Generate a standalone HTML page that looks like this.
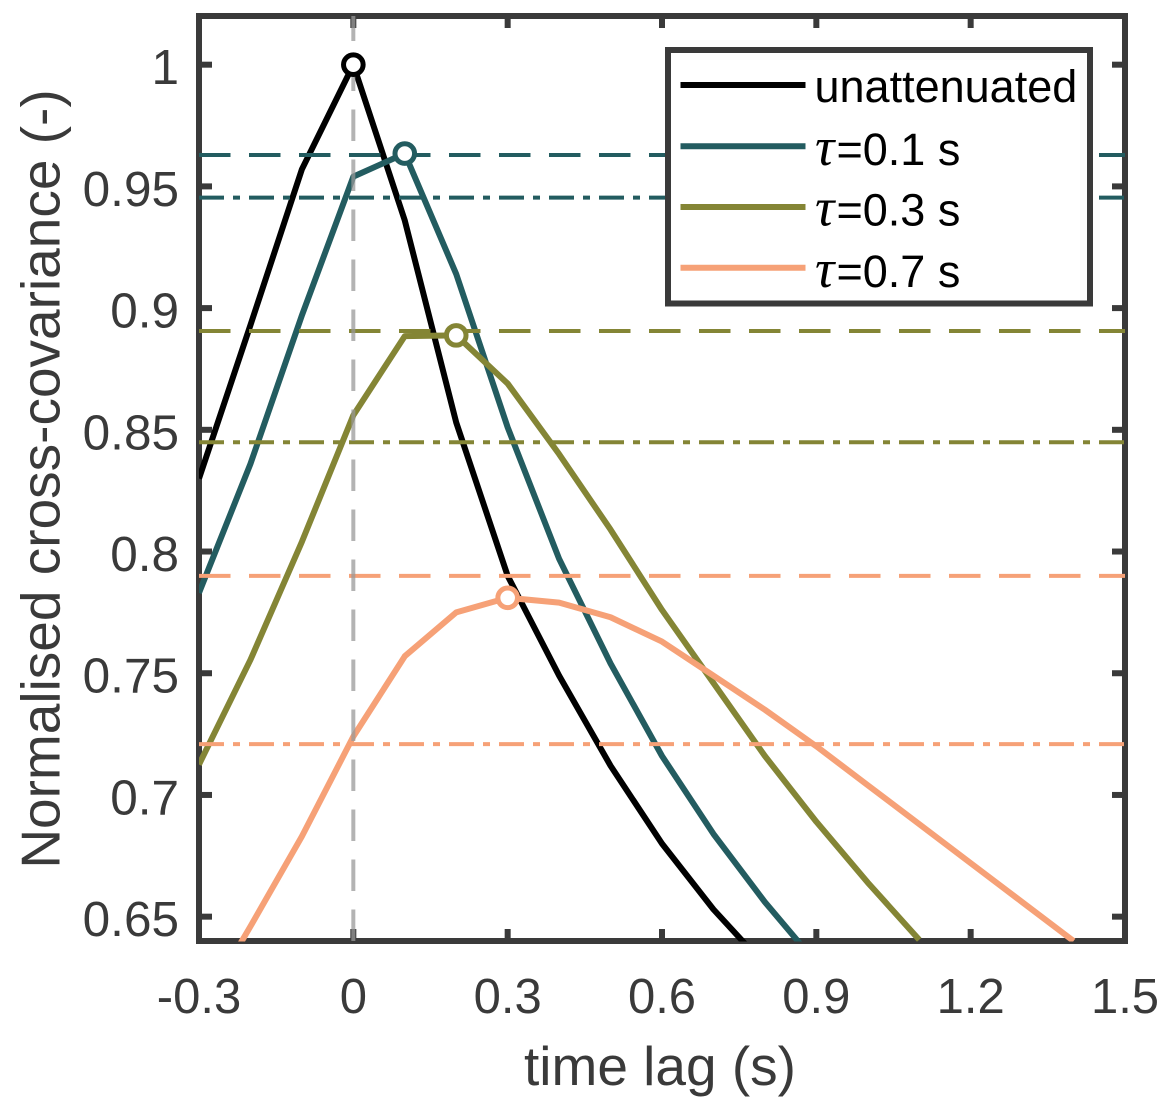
<!DOCTYPE html>
<html lang="en">
<head>
<meta charset="utf-8">
<title>Normalised cross-covariance vs time lag</title>
<style>
html,body{margin:0;padding:0;background:#fff;}
svg{display:block;}
text{font-family:"Liberation Sans",Arial,sans-serif;}
</style>
</head>
<body>
<svg id="chart" xmlns="http://www.w3.org/2000/svg" width="1174" height="1108" viewBox="0 0 1174 1108">
  <defs>
    <clipPath id="plot-clip"><rect x="199" y="16" width="926" height="925.5"></rect></clipPath>
  </defs>
  <rect x="0" y="0" width="1174" height="1108" fill="#fff"></rect>
  <g id="ticks"></g>
  <rect x="199" y="16" width="926" height="925" fill="none" stroke="#3a3a3a" stroke-width="6"></rect>
  <g id="tick-labels"></g>
  <text x="660" y="1085" font-size="55" fill="#3a3a3a" text-anchor="middle">time lag (s)</text>
  <text transform="translate(59.5 479) rotate(-90)" font-size="55" fill="#3a3a3a" text-anchor="middle">Normalised cross-covariance (-)</text>
  <g id="curves" clip-path="url(#plot-clip)"></g>
  <g id="reference-lines" clip-path="url(#plot-clip)"></g>
  <g id="markers"></g>
  <g>
    <rect x="668" y="50" width="422" height="253.5" fill="#fff" stroke="#3a3a3a" stroke-width="6"></rect>
    <line x1="680.5" x2="805.5" y1="85" y2="85" stroke="#000" stroke-width="6"></line>
    <line x1="680.5" x2="805.5" y1="146.3" y2="146.3" stroke="#235c60" stroke-width="6"></line>
    <line x1="680.5" x2="805.5" y1="207" y2="207" stroke="#848535" stroke-width="6"></line>
    <line x1="680.5" x2="805.5" y1="267.7" y2="267.7" stroke="#f6a177" stroke-width="6"></line>
    <text x="814.5" y="102" font-size="45" fill="#000">unattenuated</text>
    <text y="165" font-size="45" fill="#000"><tspan x="815" font-size="54" font-family="'Liberation Serif',serif" font-style="italic">τ</tspan><tspan x="836.5">=0.1 s</tspan></text>
    <text y="225.5" font-size="45" fill="#000"><tspan x="815" font-size="54" font-family="'Liberation Serif',serif" font-style="italic">τ</tspan><tspan x="836.5">=0.3 s</tspan></text>
    <text y="287" font-size="45" fill="#000"><tspan x="815" font-size="54" font-family="'Liberation Serif',serif" font-style="italic">τ</tspan><tspan x="836.5">=0.7 s</tspan></text>
  </g>
</svg>
<script>
const lagValues = [-0.3,-0.2,-0.1,0,0.1,0.2,0.3,0.4,0.5,0.6,0.7,0.8,0.9,1.0,1.1,1.2,1.3,1.4,1.5];
const unattenuatedValues = [0.830,0.893,0.957,1.000,0.936,0.853,0.790,0.749,0.712,0.680,0.653,0.630];
const tau01Values = [0.783,0.836,0.897,0.954,0.9635,0.914,0.851,0.797,0.754,0.716,0.684,0.656,0.631];
const tau03Values = [0.7125,0.7555,0.804,0.856,0.8885,0.8888,0.869,0.840,0.809,0.776,0.746,0.716,0.689,0.664,0.6405];
const tau07Values = [0.610,0.646,0.683,0.724,0.757,0.775,0.781,0.779,0.773,0.763,0.749,0.735,0.720,0.704,0.688,0.672,0.656,0.640];
const tau01DashedLevel = 0.9629, tau01DashDotLevel = 0.9454;
const tau03DashedLevel = 0.8906, tau03DashDotLevel = 0.8449;
const tau07DashedLevel = 0.7900, tau07DashDotLevel = 0.7209;
const xTickValues = [-0.3,0,0.3,0.6,0.9,1.2,1.5];
const xTickLabels = ['-0.3','0','0.3','0.6','0.9','1.2','1.5'];
const yTickValues = [0.65,0.7,0.75,0.8,0.85,0.9,0.95,1];
const yTickLabels = ['0.65','0.7','0.75','0.8','0.85','0.9','0.95','1'];

const NS = 'http://www.w3.org/2000/svg';
const xScale = v => 199 + (v + 0.3) / 1.8 * 926;
const yScale = v => 941 - (v - 0.64) / 0.38 * 925;
const make = (tag, attrs, parent) => {
  const el = document.createElementNS(NS, tag);
  Object.keys(attrs).forEach(k => el.setAttribute(k, attrs[k]));
  parent.appendChild(el);
  return el;
};
const colors = {unatt:'#000000', t1:'#235c60', t3:'#848535', t7:'#f6a177'};

const ticksG = document.getElementById('ticks');
const labelsG = document.getElementById('tick-labels');
xTickValues.forEach((v, i) => {
  const bottom = make('line', {x1:xScale(v), x2:xScale(v), y1:941, y2:929, stroke:'#3a3a3a', 'stroke-width':6}, ticksG);
  
  
  const top = make('line', {x1:xScale(v), x2:xScale(v), y1:16, y2:28, stroke:'#3a3a3a', 'stroke-width':6}, ticksG);
  
  
  const t = make('text', {x:xScale(v), y:1013, 'font-size':49, fill:'#3a3a3a', 'text-anchor':'middle'}, labelsG);
  
  
  t.textContent = xTickLabels[i];
});
yTickValues.forEach((v, i) => {
  const left = make('line', {x1:199, x2:212, y1:yScale(v), y2:yScale(v), stroke:'#3a3a3a', 'stroke-width':6}, ticksG);
  
  
  const right = make('line', {x1:1125, x2:1112, y1:yScale(v), y2:yScale(v), stroke:'#3a3a3a', 'stroke-width':6}, ticksG);
  
  
  const t = make('text', {x:179, y:yScale(v) + 19.5, 'font-size':49.5, fill:'#3a3a3a', 'text-anchor':'end'}, labelsG);
  
  
  t.textContent = yTickLabels[i];
});

const curvesG = document.getElementById('curves');
const drawCurve = (values, color, name) => {
  const pts = values.map((v, i) => xScale(lagValues[i]).toFixed(2) + ',' + yScale(v).toFixed(2)).join(' ');
  const p = make('polyline', {points:pts, fill:'none', stroke:color, 'stroke-width':6, 'stroke-linejoin':'round'}, curvesG);
  
  
};
drawCurve(unattenuatedValues, colors.unatt, 'curve-unattenuated');
drawCurve(tau01Values, colors.t1, 'curve-tau-0.1');
drawCurve(tau03Values, colors.t3, 'curve-tau-0.3');
drawCurve(tau07Values, colors.t7, 'curve-tau-0.7');

const refG = document.getElementById('reference-lines');
const drawLevel = (level, color, dash, name) => {
  const l = make('line', {x1:199, x2:1125, y1:yScale(level), y2:yScale(level), stroke:color, 'stroke-width':4, 'stroke-dasharray':dash}, refG);
  
  
};
const dashed = '31.5 18.5', dashDot = '25 9 7 9';
drawLevel(tau01DashedLevel, colors.t1, dashed, 'level-dashed-tau-0.1');
drawLevel(tau01DashDotLevel, colors.t1, dashDot, 'level-dashdot-tau-0.1');
drawLevel(tau03DashedLevel, colors.t3, dashed, 'level-dashed-tau-0.3');
drawLevel(tau03DashDotLevel, colors.t3, dashDot, 'level-dashdot-tau-0.3');
drawLevel(tau07DashedLevel, colors.t7, dashed, 'level-dashed-tau-0.7');
drawLevel(tau07DashDotLevel, colors.t7, dashDot, 'level-dashdot-tau-0.7');
const zeroLine = make('line', {x1:xScale(0), x2:xScale(0), y1:941, y2:16, stroke:'#989898', 'stroke-opacity':0.74, 'stroke-width':4, 'stroke-dasharray':dashed}, refG);



const markersG = document.getElementById('markers');
const drawPeak = (values, color, name) => {
  const peak = Math.max.apply(null, values);
  const idx = values.indexOf(peak);
  const c = make('circle', {cx:xScale(lagValues[idx]), cy:yScale(peak), r:9.8, fill:'#fff', stroke:color, 'stroke-width':5}, markersG);
  
  
};
drawPeak(unattenuatedValues, colors.unatt, 'peak-unattenuated');
drawPeak(tau01Values, colors.t1, 'peak-tau-0.1');
drawPeak(tau03Values, colors.t3, 'peak-tau-0.3');
drawPeak(tau07Values, colors.t7, 'peak-tau-0.7');
</script>
</body>
</html>
